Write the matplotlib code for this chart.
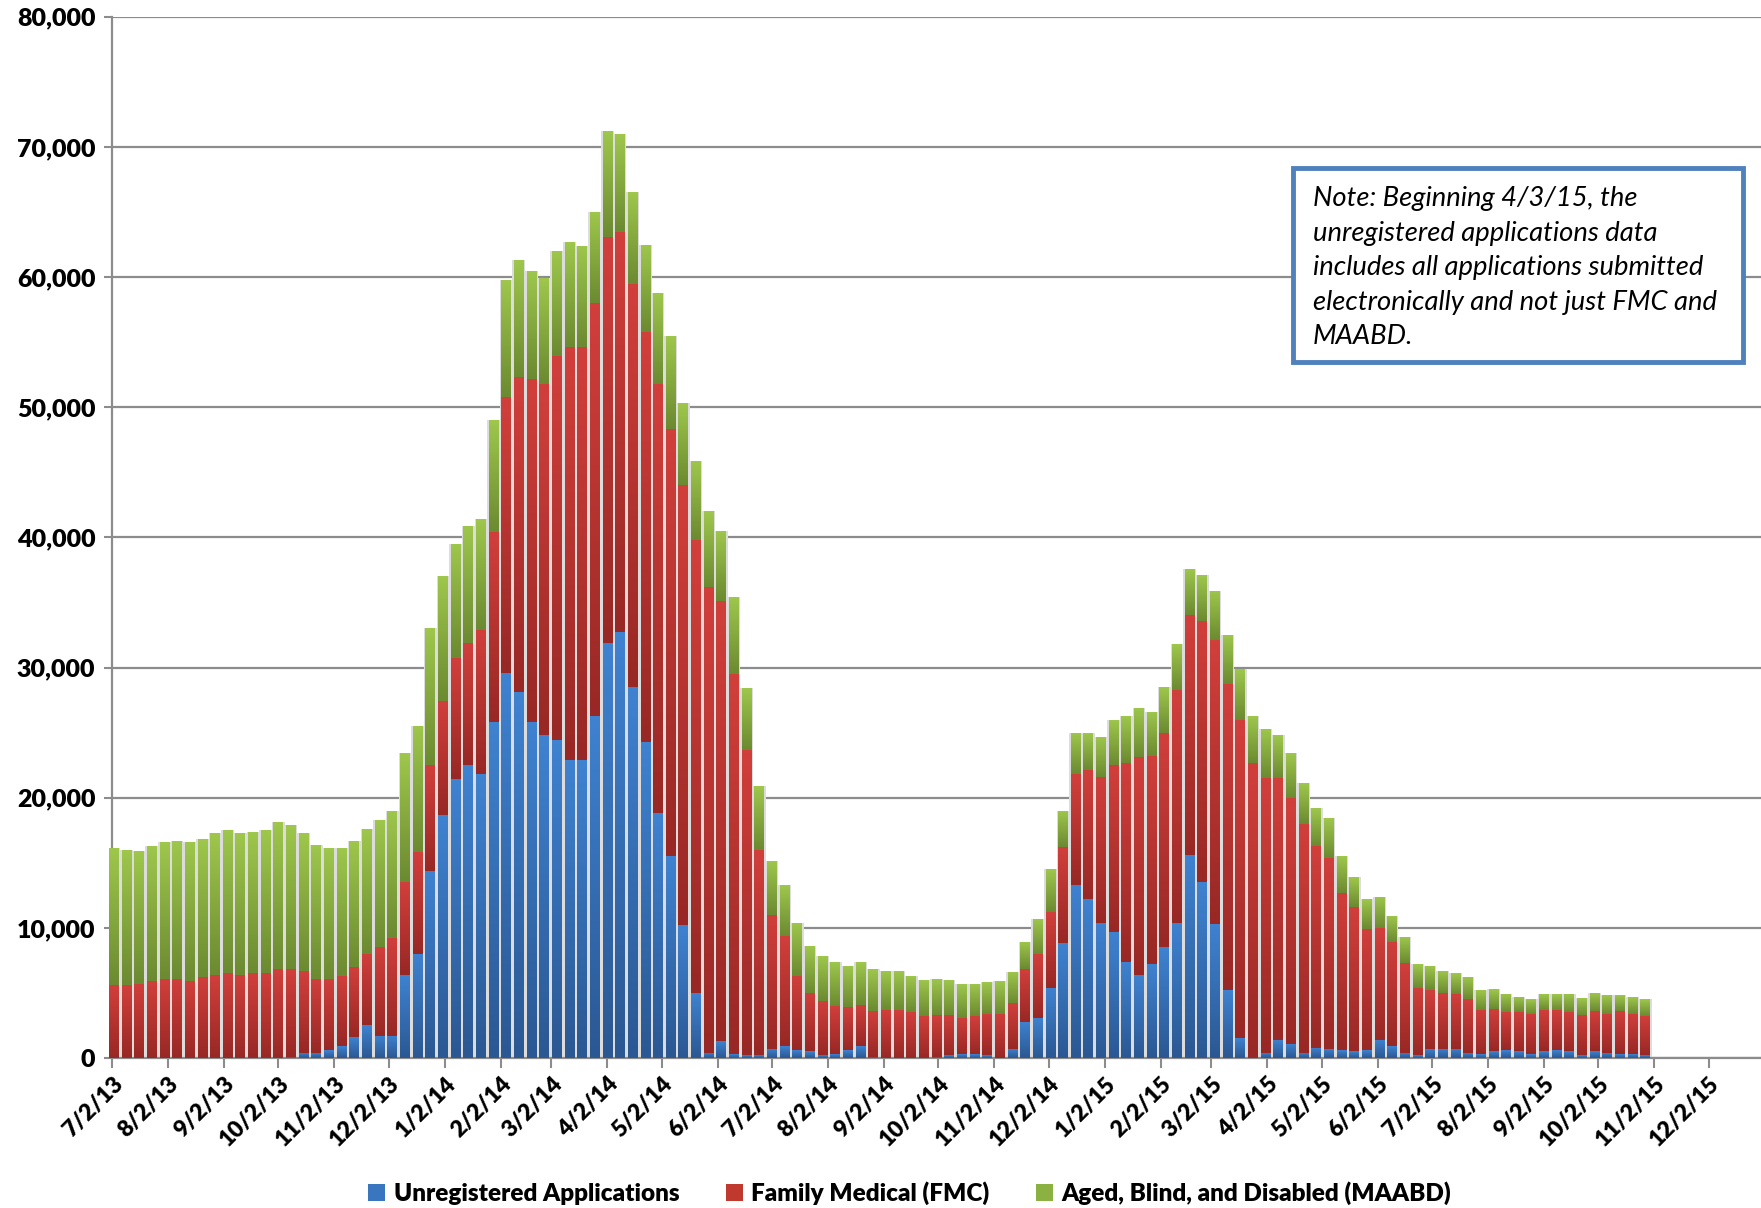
import numpy as np
import pandas as pd
import matplotlib
matplotlib.use("Agg")
import matplotlib.pyplot as plt
import matplotlib.dates as mdates
from matplotlib.colors import LinearSegmentedColormap
from matplotlib.patches import Patch, Rectangle
from matplotlib.ticker import FuncFormatter, FixedLocator

# weekly values (Mon-Fri blocks), first week starts Monday 7/1/13
WEEK_START = "2013-07-01"

unregistered = [
    0, 0, 0, 0, 0, 0, 0, 0, 0, 0, 0, 0, 0, 0, 100, 400, 400, 600, 900, 1600,
    2500, 1700, 1700, 6400, 8000, 14400, 18700, 21400, 22500, 21800, 25800, 29600, 28100, 25800, 24800, 24400,
    22900, 22900, 26300, 31900, 32700, 28500, 24300, 18800, 15500, 10200, 5000, 400, 1300, 300, 200, 200,
    700, 900, 600, 500, 200, 300, 600, 900, 100, 0, 0, 0, 0, 100, 200, 300, 300, 200,
    0, 700, 2800, 3100, 5400, 8800, 13300, 12200, 10400, 9700, 7400, 6400, 7200, 8500, 10400, 15600,
    13500, 10300, 5200, 1500, 0, 400, 1400, 1100, 400, 800, 700, 600, 500, 600, 1400, 900,
    400, 200, 700, 700, 700, 400, 300, 500, 600, 500, 300, 500, 600, 500, 200, 500,
    400, 300, 300, 200,
]

family_medical = [
    5600, 5600, 5700, 5900, 6100, 6100, 5900, 6200, 6400, 6500, 6400, 6500, 6500, 6800, 6700, 6300,
    5700, 5500, 5400, 5400, 5500, 6800, 7500, 7100, 7800, 8100, 8700, 9300, 9400, 11100, 14600, 21200,
    24200, 26400, 27000, 29500, 31700, 31700, 31700, 31200, 30800, 31000, 31500, 33000, 32800, 33800, 34800, 35800,
    33800, 29200, 23500, 15800, 10300, 8500, 5700, 4500, 4200, 3700, 3300, 3200, 3500, 3700, 3700, 3500,
    3200, 3200, 3100, 2800, 2900, 3200, 3400, 3500, 4000, 4900, 5800, 7400, 8500, 9900, 11200, 12800,
    15300, 16700, 16000, 16500, 17900, 18400, 20100, 21800, 23500, 24500, 22700, 21100, 20100, 18900, 17600, 15500,
    14700, 12100, 11100, 9300, 8600, 8000, 6900, 5200, 4500, 4300, 4200, 4100, 3400, 3300, 2900, 3000,
    3100, 3200, 3100, 3000, 3100, 3100, 3000, 3300, 3100, 3000,
]

aged_blind_disabled = [
    10500, 10400, 10200, 10400, 10500, 10600, 10700, 10600, 10900, 11000, 10900, 10900, 11000, 11300, 11100, 10600,
    10300, 10000, 9800, 9700, 9600, 9800, 9800, 9900, 9700, 10500, 9600, 8800, 9000, 8500, 8600, 9000,
    9000, 8300, 8100, 8100, 8100, 7800, 7000, 8100, 7500, 7000, 6700, 7000, 7200, 6300, 6100, 5800,
    5400, 5900, 4700, 4900, 4100, 3900, 4100, 3600, 3400, 3400, 3200, 3300, 3200, 3000, 3000, 2800,
    2800, 2800, 2700, 2600, 2500, 2400, 2500, 2400, 2100, 2700, 3300, 2800, 3200, 2900, 3100, 3500,
    3600, 3800, 3400, 3500, 3500, 3600, 3500, 3800, 3800, 3900, 3600, 3800, 3300, 3400, 3100, 2900,
    3000, 2800, 2300, 2300, 2400, 2000, 2000, 1800, 1900, 1700, 1600, 1700, 1500, 1500, 1400, 1200,
    1100, 1200, 1200, 1400, 1300, 1400, 1400, 1200, 1300, 1300,
]

series_labels = ["Unregistered Applications", "Family Medical (FMC)",
                 "Aged, Blind, and Disabled (MAABD)"]

note_text = ("Note: Beginning 4/3/15, the\n"
             "unregistered applications data\n"
             "includes all applications submitted\n"
             "electronically and not just FMC and\n"
             "MAABD.")

# (dark bottom, light top) of each bar gradient
GRADIENTS = [("#2b5893", "#3f82d0"), ("#982825", "#d13f3b"), ("#6c8a31", "#9ec74c")]
MID_COLORS = ["#3a75bf", "#c0392f", "#8bb142"]
GRID_COLOR = "#8c8c8c"
FONT = ["Lato", "DejaVu Sans"]

plt.rcParams["font.family"] = FONT


def add_gradient(ax, bars, dark, light):
    cmap = LinearSegmentedColormap.from_list("g", [dark, light])
    grad = np.linspace(0, 1, 64).reshape(-1, 1)
    for rect in bars:
        h = rect.get_height()
        if h <= 0:
            continue
        x0, y0, w = rect.get_x(), rect.get_y(), rect.get_width()
        im = ax.imshow(grad, extent=[x0, x0 + w, y0, y0 + h], origin="lower",
                       cmap=cmap, aspect="auto", interpolation="bilinear", zorder=3)
        im.set_clip_path(rect)


def main():
    weeks = pd.date_range(WEEK_START, periods=len(unregistered), freq="7D")
    x = mdates.date2num(weeks) + 2.0  # centred on Wednesday
    u = np.array(unregistered, dtype=float)
    f = np.array(family_medical, dtype=float)
    m = np.array(aged_blind_disabled, dtype=float)

    fig = plt.figure(figsize=(17.61, 12.08), dpi=100)
    ax = fig.add_axes([0.0636, 0.1242, 0.9364, 0.8619])

    # grey "shadow" showing through the weekend gaps
    ax.bar(x, u + f + m, width=7.0, color="#dcdcdc", zorder=1)

    stacks = [(u, 0), (f, u), (m, u + f)]
    for (vals, bottom), (dark, light), col in zip(stacks, GRADIENTS, MID_COLORS):
        bars = ax.bar(x, vals, bottom=bottom, width=5.4, color=col, zorder=2,
                      linewidth=0)
        add_gradient(ax, bars, dark, light)

    tick_dates = pd.date_range("2013-07-01", "2015-12-01", freq="MS") + pd.Timedelta(days=1)
    tick_labels = [f"{d.month}/{d.day}/{d.year % 100}" for d in tick_dates]

    ax.set_xlim(mdates.date2num(pd.Timestamp("2013-07-02")),
                mdates.date2num(pd.Timestamp("2015-12-31")))
    ax.set_ylim(0, 80000)
    ax.xaxis.set_major_locator(FixedLocator(mdates.date2num(tick_dates)))
    ax.set_xticklabels(tick_labels, rotation=45, ha="right", rotation_mode="anchor",
                       fontsize=16.5, fontweight="heavy")
    ax.set_yticks(np.arange(0, 80001, 10000))
    ax.yaxis.set_major_formatter(FuncFormatter(lambda v, p: f"{int(v):,}"))
    for lab in ax.get_yticklabels():
        lab.set_fontweight("heavy")
        lab.set_fontsize(18)

    ax.grid(axis="y", color=GRID_COLOR, linewidth=1.6, zorder=0)
    ax.set_axisbelow(True)
    ax.tick_params(axis="x", direction="out", length=7, width=1.5, color=GRID_COLOR, pad=4)
    ax.tick_params(axis="y", direction="out", length=6, width=1.5, color=GRID_COLOR, pad=6)
    for side in ("top", "right"):
        ax.spines[side].set_visible(False)
    for side in ("left", "bottom"):
        ax.spines[side].set_color(GRID_COLOR)
        ax.spines[side].set_linewidth(1.6)

    # note box
    fig.add_artist(Rectangle((0.7342, 0.7003), 0.2556, 0.1606, transform=fig.transFigure,
                             facecolor="white", edgecolor="#4f81bd", linewidth=3.5, zorder=5))
    fig.text(0.7456, 0.846, note_text, ha="left", va="top", fontsize=19.7, style="italic",
             linespacing=1.48, zorder=6)

    handles = [Patch(facecolor=c, edgecolor="none") for c in MID_COLORS]
    fig.legend(handles, series_labels, loc="center", bbox_to_anchor=(0.5165, 0.0124),
               ncol=3, frameon=False, handlelength=0.7, handleheight=0.7,
               handletextpad=0.35, columnspacing=1.9,
               prop={"family": FONT, "weight": "heavy", "size": 17.5})

    fig.savefig("out.png", dpi=100)


if __name__ == "__main__":
    main()
